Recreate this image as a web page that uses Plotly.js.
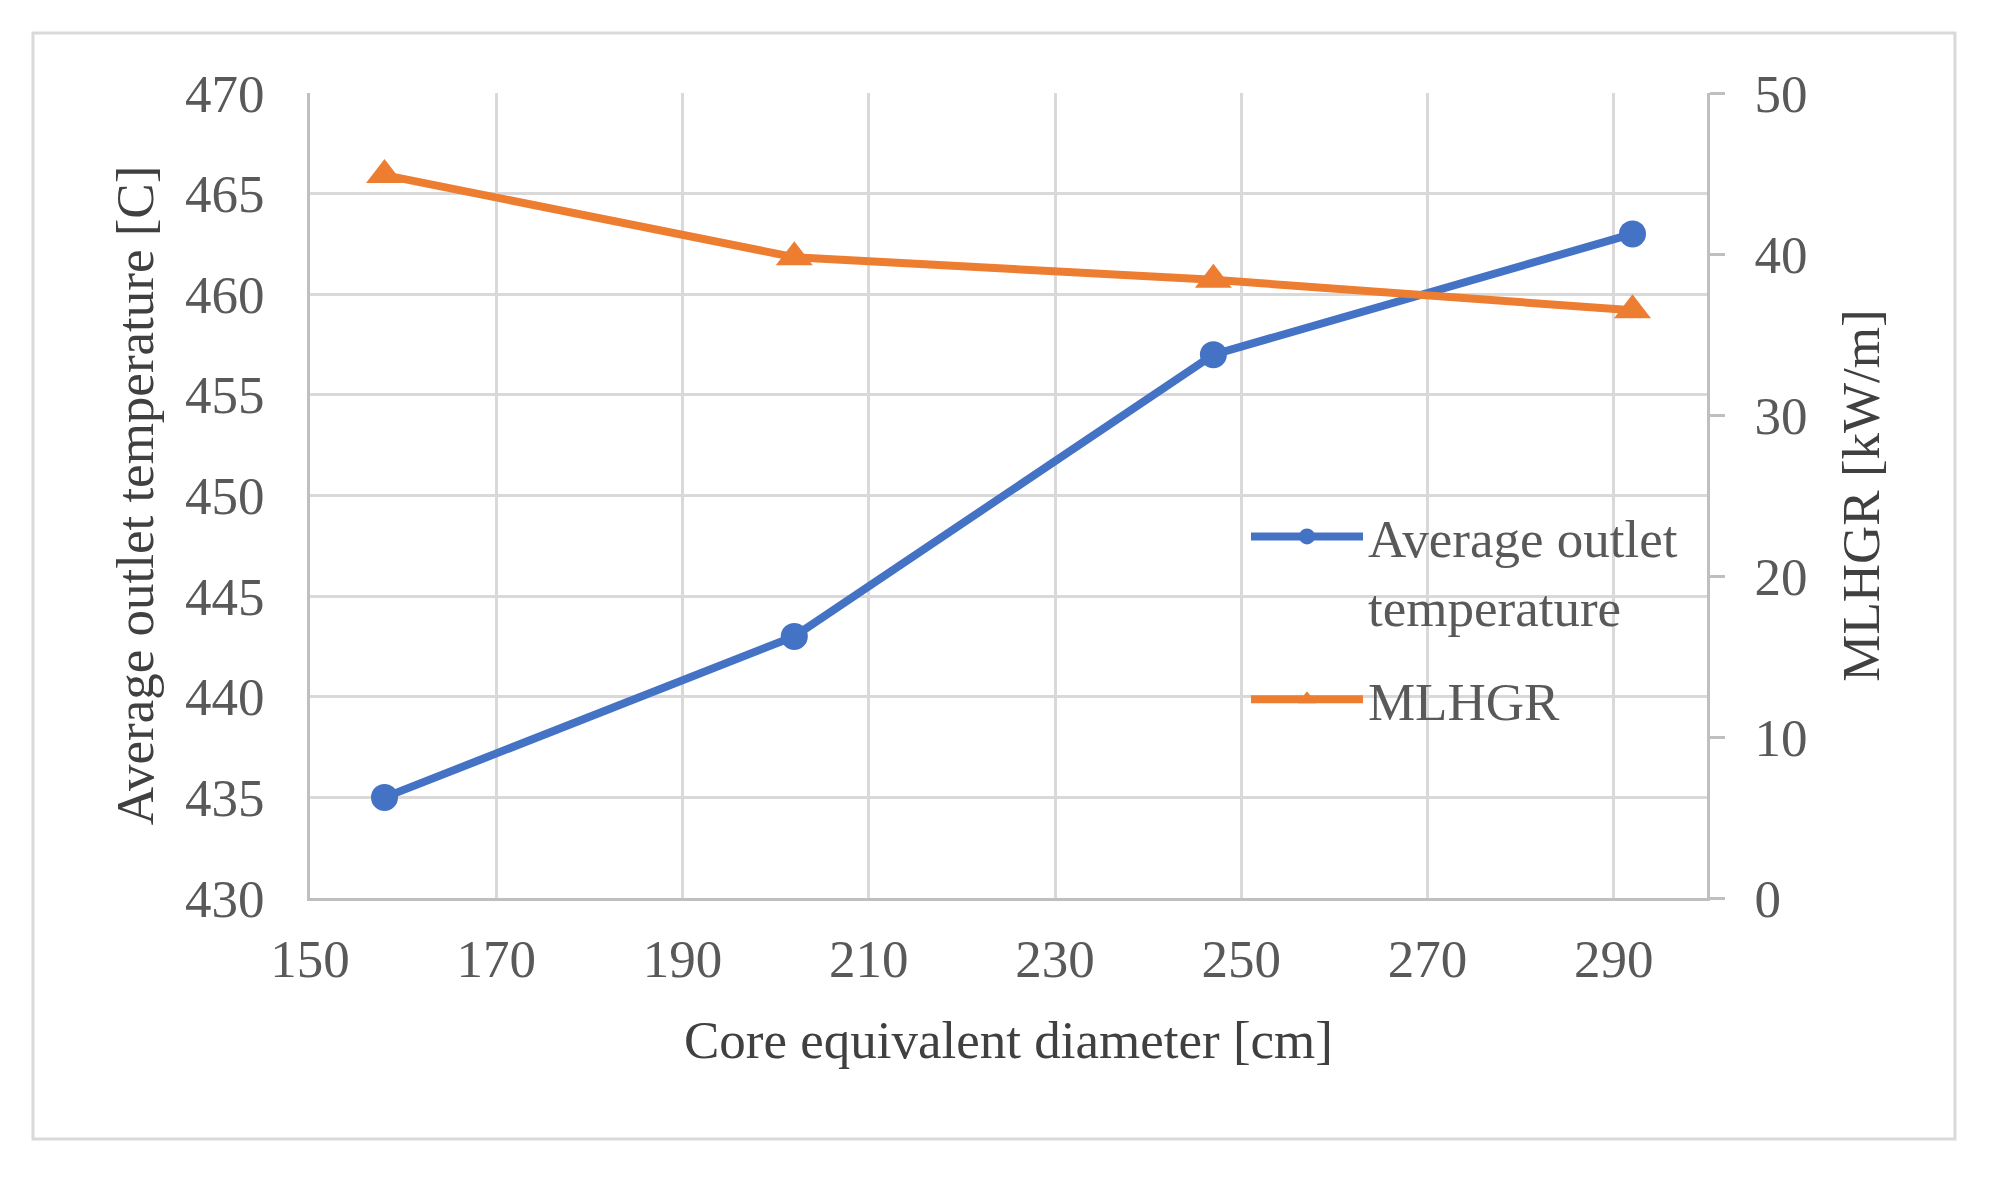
<!DOCTYPE html>
<html>
<head>
<meta charset="utf-8">
<script src="https://cdn.plot.ly/plotly-3.0.1.min.js"></script>
<style>
html,body{margin:0;padding:0;background:#fff;}
#chart{width:1989px;height:1178px;}
</style>
</head>
<body>
<div id="chart"></div>
<script>
const diameter = [158, 202, 247, 292];
const outletTemp = [435, 443, 457, 463];
const mlhgr = [44.9, 39.8, 38.4, 36.5];
const xTicks = [150, 170, 190, 210, 230, 250, 270, 290];
const yTicks = [430, 435, 440, 445, 450, 455, 460, 465, 470];
const y2Ticks = [0, 10, 20, 30, 40, 50];

const FONT = "'Liberation Serif', 'Times New Roman', serif";

const traces = [
  {
    x: diameter, y: outletTemp, name: 'Average outlet<br>temperature',
    legendgroup: 'a',
    type: 'scatter', mode: 'lines+markers', yaxis: 'y',
    line: {color: '#4472c4', width: 8},
    marker: {color: '#4472c4', size: 27, symbol: 'circle'}
  },
  {
    x: diameter, y: mlhgr, name: 'MLHGR',
    legendgroup: 'b',
    type: 'scatter', mode: 'lines+markers', yaxis: 'y2',
    line: {color: '#ed7d31', width: 8},
    marker: {color: '#ed7d31', size: 32, symbol: 'triangle-up'}
  }
];

const layout = {
  width: 1989, height: 1178,
  margin: {l: 310, r: 282, t: 93, b: 280},
  paper_bgcolor: '#ffffff', plot_bgcolor: '#ffffff',
  font: {family: FONT, color: '#595959', size: 53},
  showlegend: true,
  legend: {
    x: 0.670, y: 0.50, xanchor: 'left', yanchor: 'top',
    bgcolor: 'rgba(0,0,0,0)', borderwidth: 0,
    font: {family: FONT, size: 53, color: '#595959'},
    itemwidth: 112, tracegroupgap: 22, valign: 'top', traceorder: 'grouped'
  },
  xaxis: {
    range: [150, 300], tickvals: xTicks, ticktext: xTicks.map(String),
    showgrid: true, gridcolor: '#d9d9d9', gridwidth: 3,
    showline: true, linecolor: '#bfbfbf', linewidth: 3,
    ticks: '', ticklabelstandoff: 12, zeroline: false,
    tickfont: {family: FONT, size: 53, color: '#595959'},
    title: {text: 'Core equivalent diameter [cm]', font: {family: FONT, size: 53, color: '#404040'}, standoff: 35}
  },
  yaxis: {
    range: [430, 470], tickvals: yTicks, ticktext: yTicks.map(String),
    showgrid: true, gridcolor: '#d9d9d9', gridwidth: 3,
    showline: true, linecolor: '#bfbfbf', linewidth: 3,
    ticks: '', ticklabelstandoff: 32, zeroline: false,
    tickfont: {family: FONT, size: 53, color: '#595959'},
    title: {text: 'Average outlet temperature [C]', font: {family: FONT, size: 53, color: '#404040'}, standoff: 15}
  },
  yaxis2: {
    range: [0, 50], tickvals: y2Ticks, ticktext: y2Ticks.map(String),
    overlaying: 'y', side: 'right', showgrid: false,
    showline: true, linecolor: '#bfbfbf', linewidth: 3,
    ticks: 'outside', ticklen: 15, tickwidth: 3, tickcolor: '#bfbfbf',
    ticklabelstandoff: 19, zeroline: false,
    tickfont: {family: FONT, size: 53, color: '#595959'},
    title: {text: 'MLHGR [kW/m]', font: {family: FONT, size: 53, color: '#404040'}, standoff: 36}
  },
  shapes: [{
    type: 'rect', xref: 'paper', yref: 'paper',
    x0: -0.1983, x1: 1.1775, y0: -0.2994, y1: 1.0745,
    line: {color: '#d9d9d9', width: 3}, fillcolor: 'rgba(0,0,0,0)', layer: 'below'
  }]
};

Plotly.newPlot('chart', traces, layout, {displayModeBar: false, staticPlot: true});
</script>
</body>
</html>
